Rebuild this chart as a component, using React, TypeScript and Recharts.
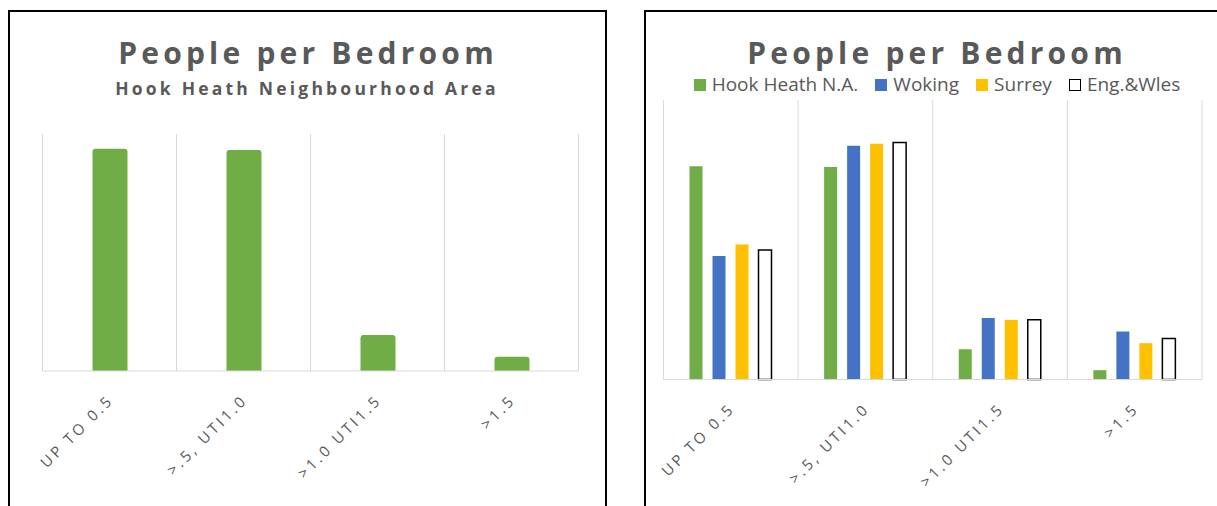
import { BarChart, Bar, XAxis, YAxis, CartesianGrid } from 'recharts';

const categories = ['UP TO 0.5', '>.5, UTI1.0', '>1.0 UTI1.5', '>1.5'];

// left chart: Hook Heath Neighbourhood Area only
const hookHeathArea = [46.9, 46.6, 7.6, 3.0];

// right chart: comparison (%)
const hookHeath = [45.8, 45.6, 6.5, 2.0];
const woking = [26.5, 50.2, 13.2, 10.3];
const surrey = [29.0, 50.6, 12.8, 7.8];
const engWales = [27.8, 50.9, 12.8, 8.8];

const seriesNames = ['Hook Heath N.A.', 'Woking', 'Surrey', 'Eng.&Wles'];
const seriesKeys = ['hook', 'woking', 'surrey', 'eng'];

const leftData = categories.map((name, i) => ({ name, area: hookHeathArea[i] }));
const rightData = categories.map((name, i) => ({
  name,
  hook: hookHeath[i],
  woking: woking[i],
  surrey: surrey[i],
  eng: engWales[i],
}));

const FILLS = ['#70AD47', '#4472C4', '#FFC000', '#FFFFFF'];
const STROKES = [undefined, undefined, undefined, '#000000'];
const TEXT = '#595959';
const GRID = '#D9D9D9';
const FONT = '"Open Sans", "DejaVu Sans", sans-serif';

const bandLines = ({ offset }: any) =>
  [0, 1, 2, 3, 4].map((i) => offset.left + (i * offset.width) / 4);

function SlantTick({ x, y, payload }: any) {
  const ax = x + 5;
  const ay = y + 30;
  return (
    <text
      x={ax}
      y={ay}
      transform={`rotate(-45 ${ax} ${ay})`}
      textAnchor="end"
      fill={TEXT}
      fontSize={15}
      fontFamily={FONT}
      style={{ letterSpacing: '3px' }}
    >
      {payload.value}
    </text>
  );
}

export default function App() {
  return (
    <div
      style={{
        position: 'absolute',
        left: 0,
        top: 0,
        width: 1217,
        height: 506,
        overflow: 'hidden',
        background: '#fff',
        fontFamily: FONT,
      }}
    >
      {/* panel frames */}
      <div style={{ position: 'absolute', left: 8, top: 10, width: 599, height: 530, border: '2px solid #000', boxSizing: 'border-box' }} />
      <div style={{ position: 'absolute', left: 644, top: 10, width: 640, height: 530, border: '2px solid #000', boxSizing: 'border-box' }} />

      {/* titles */}
      <svg width={1217} height={120} style={{ position: 'absolute', left: 0, top: 0 }}>
        <text x={308} y={64} textAnchor="middle" fill={TEXT} fontSize={30} fontWeight={700} fontFamily={FONT} style={{ letterSpacing: '4.2px' }}>
          People per Bedroom
        </text>
        <text x={307} y={95} textAnchor="middle" fill={TEXT} fontSize={17.5} fontWeight={700} fontFamily={FONT} style={{ letterSpacing: '3.2px' }}>
          Hook Heath Neighbourhood Area
        </text>
        <text x={937} y={64} textAnchor="middle" fill={TEXT} fontSize={30} fontWeight={700} fontFamily={FONT} style={{ letterSpacing: '4.2px' }}>
          People per Bedroom
        </text>
      </svg>

      {/* legend for right chart */}
      <div
        style={{
          position: 'absolute',
          left: 637,
          top: 75,
          width: 600,
          height: 19,
          display: 'flex',
          justifyContent: 'center',
          alignItems: 'center',
          fontSize: 19,
          lineHeight: '19px',
          color: TEXT,
          whiteSpace: 'nowrap',
        }}
      >
        {seriesNames.map((n, i) => (
          <div key={n} style={{ display: 'flex', alignItems: 'center', height: 19, marginRight: i < seriesNames.length - 1 ? 17 : 0 }}>
            <span
              style={{
                display: 'inline-block',
                width: 12,
                height: 12,
                boxSizing: 'border-box',
                background: FILLS[i],
                border: STROKES[i] ? `1px solid ${STROKES[i]}` : 'none',
                marginRight: 6,
              }}
            />
            <span style={{ lineHeight: '19px' }}>{n}</span>
          </div>
        ))}
      </div>

      {/* left chart */}
      <div style={{ position: 'absolute', left: 0, top: 0 }}>
        <BarChart width={620} height={506} data={leftData} margin={{ top: 134, right: 41.5, bottom: 75, left: 42.5 }}>
          <CartesianGrid horizontal={false} stroke={GRID} verticalCoordinatesGenerator={bandLines} />
          <XAxis
            dataKey="name"
            height={60}
            tickSize={0}
            tickMargin={0}
            tickLine={false}
            axisLine={{ stroke: GRID }}
            tick={<SlantTick />}
            interval={0}
          />
          <YAxis hide width={0} domain={[0, 50]} />
          <Bar dataKey="area" fill={FILLS[0]} barSize={35} radius={[3, 3, 0, 0]} isAnimationActive={false} />
        </BarChart>
      </div>

      {/* right chart */}
      <div style={{ position: 'absolute', left: 640, top: 0 }}>
        <BarChart width={577} height={506} data={rightData} barGap={10} margin={{ top: 100, right: 15, bottom: 66.5, left: 23.5 }}>
          <CartesianGrid horizontal={false} stroke={GRID} verticalCoordinatesGenerator={bandLines} />
          <XAxis
            dataKey="name"
            height={60}
            tickSize={0}
            tickMargin={0}
            tickLine={false}
            axisLine={{ stroke: GRID }}
            tick={<SlantTick />}
            interval={0}
          />
          <YAxis hide width={0} domain={[0, 60]} />
          {seriesKeys.map((k, i) => (
            <Bar
              key={k}
              dataKey={k}
              name={seriesNames[i]}
              fill={FILLS[i]}
              stroke={STROKES[i]}
              strokeWidth={STROKES[i] ? 1.5 : 0}
              barSize={13}
              isAnimationActive={false}
            />
          ))}
        </BarChart>
      </div>
    </div>
  );
}
